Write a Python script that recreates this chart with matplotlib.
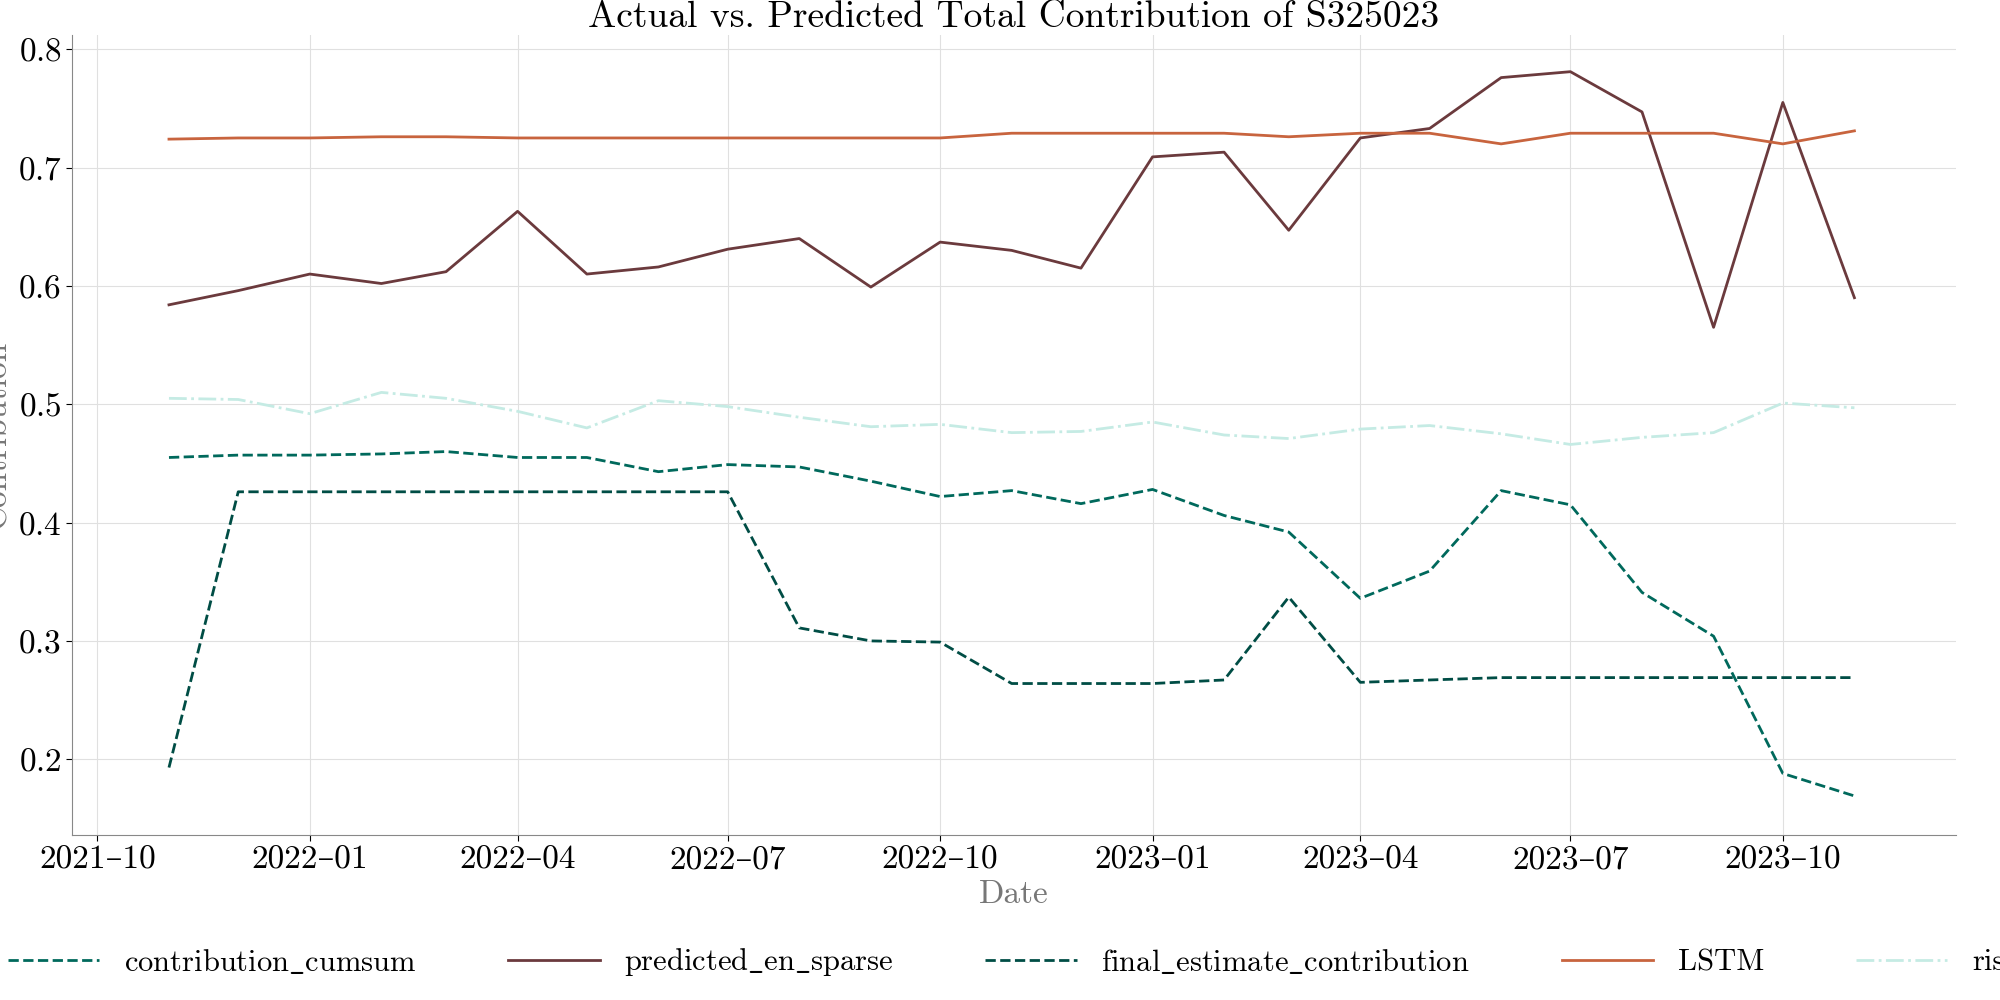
import matplotlib
matplotlib.use("Agg")
import matplotlib.pyplot as plt
import matplotlib.dates as mdates
import pandas as pd

plt.rcParams["font.family"] = ["cmr10", "DejaVu Serif"]
plt.rcParams["mathtext.fontset"] = "cm"
plt.rcParams["axes.unicode_minus"] = False
plt.rcParams["axes.formatter.use_mathtext"] = True

dates = pd.date_range("2021-11-01", periods=25, freq="MS")

contribution_cumsum = [0.455, 0.457, 0.457, 0.458, 0.460, 0.455, 0.455, 0.443, 0.449, 0.447,
                       0.435, 0.422, 0.427, 0.416, 0.428, 0.406, 0.392, 0.336, 0.359, 0.427,
                       0.415, 0.341, 0.304, 0.188, 0.169]
predicted_en_sparse = [0.584, 0.596, 0.610, 0.602, 0.612, 0.663, 0.610, 0.616, 0.631, 0.640,
                       0.599, 0.637, 0.630, 0.615, 0.709, 0.713, 0.647, 0.725, 0.733, 0.776,
                       0.781, 0.747, 0.565, 0.755, 0.590]
final_estimate_contribution = [0.193, 0.426, 0.426, 0.426, 0.426, 0.426, 0.426, 0.426, 0.426,
                               0.311, 0.300, 0.299, 0.264, 0.264, 0.264, 0.267, 0.337, 0.265,
                               0.267, 0.269, 0.269, 0.269, 0.269, 0.269, 0.269]
lstm = [0.724, 0.725, 0.725, 0.726, 0.726, 0.725, 0.725, 0.725, 0.725, 0.725, 0.725, 0.725,
        0.729, 0.729, 0.729, 0.729, 0.726, 0.729, 0.729, 0.720, 0.729, 0.729, 0.729, 0.720, 0.731]
risk = [0.505, 0.504, 0.492, 0.510, 0.505, 0.494, 0.480, 0.503, 0.498, 0.489, 0.481, 0.483,
        0.476, 0.477, 0.485, 0.474, 0.471, 0.479, 0.482, 0.475, 0.466, 0.472, 0.476, 0.501, 0.497]


def tex(s):
    return r"$\mathrm{" + s.replace("_", r"\_") + "}$"


fig = plt.figure(figsize=(20, 10), dpi=100)
ax = fig.add_axes([0.036, 0.165, 0.942, 0.8])

lw = 2.0
ax.plot(dates, contribution_cumsum, "--", color="#00695c", lw=lw, label=tex("contribution_cumsum"))
ax.plot(dates, predicted_en_sparse, "-", color="#6b3a3d", lw=lw, label=tex("predicted_en_sparse"))
ax.plot(dates, final_estimate_contribution, "--", color="#004d45", lw=lw,
        label=tex("final_estimate_contribution"))
ax.plot(dates, lstm, "-", color="#c8643e", lw=lw, label="LSTM")
ax.plot(dates, risk, "-.", color="#c5ebe4", lw=lw, label="risk")

ax.set_ylim(0.136, 0.812)
ax.set_xlim(pd.Timestamp("2021-09-20"), pd.Timestamp("2023-12-15"))
ax.xaxis.set_major_locator(mdates.MonthLocator(bymonth=[1, 4, 7, 10]))
ax.xaxis.set_major_formatter(mdates.DateFormatter("%Y\u2013%m"))
ax.grid(True, color="#e0e0e0", lw=0.8)
ax.tick_params(labelsize=24, length=4)
for s in ["top", "right"]:
    ax.spines[s].set_visible(False)
for s in ["left", "bottom"]:
    ax.spines[s].set_color("#888888")

ax.set_title("Actual vs. Predicted Total Contribution of S325023", fontsize=27)
ax.set_xlabel("Date", fontsize=24, color="#777777")
ax.set_ylabel("Contribution", fontsize=24, color="#777777", labelpad=4)
ax.legend(loc="upper center", bbox_to_anchor=(0.5, -0.105), ncol=5, frameon=False,
          fontsize=22, columnspacing=3.0, handlelength=3.0)

fig.savefig("out.png")
